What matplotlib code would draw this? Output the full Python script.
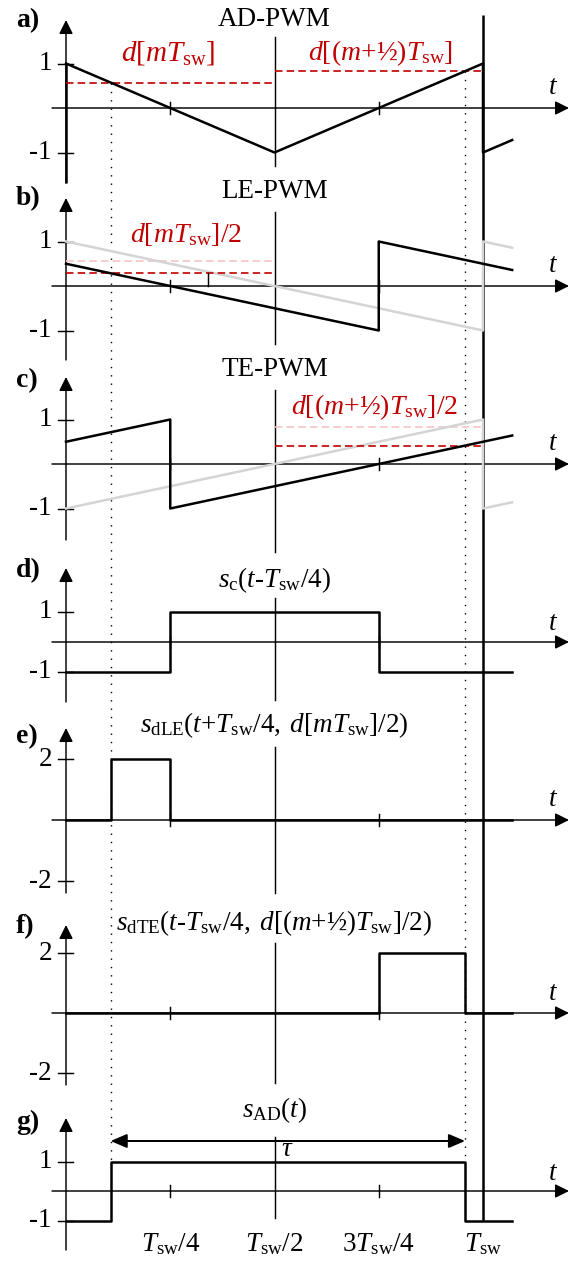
import matplotlib
matplotlib.use("Agg")
import matplotlib.pyplot as plt

plt.rcParams['font.family'] = ['Liberation Serif', 'DejaVu Serif']
plt.rcParams['mathtext.fontset'] = 'custom'
plt.rcParams['mathtext.rm'] = 'Liberation Serif'
plt.rcParams['mathtext.it'] = 'Liberation Serif:italic'
plt.rcParams['mathtext.bf'] = 'Liberation Serif:bold'

# ---------------------------------------------------------------- data
# time is in units of the switching period Tsw
D_M = 0.57          # d[m Tsw]
D_MH = 0.83         # d[(m+1/2) Tsw]
T_ON = 0.107        # AD-PWM rising edge
T_OFF = 0.957       # AD-PWM falling edge

# a) AD-PWM triangular carrier
ad_t = [0.0, 0.5, 1.0, 1.0, 1.07]
ad_v = [1.0, -1.0, 1.0, -1.0, -0.72]

# b) LE-PWM sawtooth carriers
le_t = [0.0, 0.75, 0.75, 1.07]
le_v = [0.5, -1.0, 1.0, 0.36]
le_ref_t = [0.0, 1.0, 1.0, 1.07]
le_ref_v = [1.0, -1.0, 1.0, 0.86]
le_mark_t = 0.34

# c) TE-PWM sawtooth carriers
te_t = [0.0, 0.25, 0.25, 1.07]
te_v = [0.5, 1.0, -1.0, 0.64]
te_ref_t = [0.0, 1.0, 1.0, 1.07]
te_ref_v = [-1.0, 1.0, -1.0, -0.86]

# d) shifted square carrier
sc_t = [0.0, 0.25, 0.25, 0.75, 0.75, 1.07]
sc_v = [-1, -1, 1, 1, -1, -1]

# e) leading-edge pulse
le_pulse_t = [0.0, T_ON, T_ON, 0.25, 0.25, 1.07]
le_pulse_v = [0, 0, 2, 2, 0, 0]

# f) trailing-edge pulse
te_pulse_t = [0.0, 0.75, 0.75, T_OFF, T_OFF, 1.07]
te_pulse_v = [0, 0, 2, 2, 0, 0]

# g) AD-PWM switching function
sad_t = [0.0, T_ON, T_ON, T_OFF, T_OFF, 1.07]
sad_v = [-1, -1, 1, 1, -1, -1]

x_ticks = [0.25, 0.5, 0.75, 1.0]
x_tick_labels = [r"$T_{\mathrm{sw}}/4$", r"$T_{\mathrm{sw}}/2$",
                 r"$3T_{\mathrm{sw}}/4$", r"$T_{\mathrm{sw}}$"]

# ---------------------------------------------------------------- style
RED = "#c00000"
PINK = "#f7c3c3"
GREY = "#d4d4d4"
LW_WAVE = 1.8
LW_AX = 1.05
FS = 19.5
FS_RED = 20
FS_LAB = 20
DASH = (0, (4.5, 2.5))

W, H = 570, 1261
X0, XS = 66, 417      # pixel column of t = 0, pixels per Tsw

fig = plt.figure(figsize=(W / 100, H / 100), dpi=100)


def px_t(px):
    return (px - X0) / XS


# full-height layer for the lines that run through every panel
over = fig.add_axes([0, 0, 1, 1])
over.set_xlim(px_t(0), px_t(W))
over.set_ylim(H, 0)
over.axis('off')
over.set_zorder(-1)


class Panel:
    def __init__(self, top, bottom, zero, scale):
        self.zero, self.scale = zero, scale
        self.ax = fig.add_axes([0, 1 - bottom / H, 1, (bottom - top) / H])
        self.ax.set_xlim(px_t(0), px_t(W))
        self.ax.set_ylim(self.v(bottom), self.v(top))
        self.ax.axis('off')
        self.top, self.bottom = top, bottom

    def v(self, py):
        return (self.zero - py) / self.scale

    def py(self, v):
        return self.zero - v * self.scale


ARROW = dict(arrowstyle='-|>,head_length=0.6,head_width=0.3', mutation_scale=14,
             lw=LW_AX, color='k', shrinkA=0, shrinkB=0)


def axes_frame(p, label, y_top, y_bot, half_top, half_bot, levels, title, title_y,
               label_y, t_y=20):
    ax = p.ax
    # time axis with arrow
    ax.annotate('', xy=(px_t(569), 0), xytext=(px_t(52), 0), arrowprops=ARROW,
                annotation_clip=False, zorder=2)
    ax.text(px_t(553), p.v(p.zero - t_y), r"$t$", fontsize=FS,
            ha='center', va='center')
    # vertical axis with arrow
    ax.annotate('', xy=(0, p.v(y_top)), xytext=(0, p.v(y_bot)), arrowprops=ARROW,
                annotation_clip=False, zorder=2)
    # mid-period marker line
    ax.plot([0.5, 0.5], [p.v(half_bot), p.v(half_top)], color='k', lw=LW_AX,
            clip_on=False, zorder=2)
    # time ticks
    for tt in (0.25, 0.75):
        ax.plot([tt, tt], [p.v(p.zero + 6), p.v(p.zero - 6)], color='k', lw=LW_AX,
                clip_on=False, zorder=2)
    # level ticks
    for lv in levels:
        ax.plot([px_t(58), px_t(73)], [lv, lv], color='k', lw=LW_AX, zorder=2)
        ax.text(px_t(52), lv, f"{lv:g}", fontsize=FS, ha='right', va='center')
    ax.text(px_t(16), p.v(label_y), label, fontsize=FS_LAB, fontweight='bold',
            ha='left', va='center')
    if title:
        ax.text(0.5, p.v(title_y), title, fontsize=FS, ha='center', va='center')


pa = Panel(0, 185, 108, 44.5)
pb = Panel(185, 362, 286, 44.5)
pc = Panel(362, 548, 464, 44.5)
pd = Panel(548, 712, 642, 30.0)
pe = Panel(712, 900, 820, 30.5)
pf = Panel(900, 1085, 1013, 30.0)
pg = Panel(1085, 1261, 1191, 29.5)

axes_frame(pa, "a)", 20, 183, 37, 166, [1, -1], "AD-PWM", 19, 21)
axes_frame(pb, "b)", 198, 360, 212, 344, [1, -1], "LE-PWM", 192, 199)
axes_frame(pc, "c)", 377, 540, 390, 552, [1, -1], "TE-PWM", 369, 381)
axes_frame(pd, "d)", 568, 702, 598, 700, [1, -1],
           r"$s_{\mathrm{c}}(t$-$T_{\mathrm{sw}}/4)$", 580, 571, t_y=19)
axes_frame(pe, "e)", 728, 893, 747, 893, [2, -2],
           r"$s_{\mathrm{dLE}}(t{+}T_{\mathrm{sw}}/4,\;d[mT_{\mathrm{sw}}]/2)$", 725, 737)
axes_frame(pf, "f)", 925, 1085, 943, 1083, [2, -2],
           r"$s_{\mathrm{dTE}}(t$-$T_{\mathrm{sw}}/4,\;d[(m{+}$½$)T_{\mathrm{sw}}]/2)$",
           923, 927)
axes_frame(pg, "g)", 1118, 1250, 1137, 1218, [1, -1], r"$s_{\mathrm{AD}}(t)$",
           1110, 1122, t_y=18)

# period boundary and the two switching instants, through all panels
over.plot([1, 1], [15, pg.py(-1)], color='k', lw=LW_WAVE, solid_capstyle='butt')
over.plot([T_ON, T_ON], [pa.py(D_M), pg.py(1)], color='k', lw=1.0, ls=(0, (1, 5)))
over.plot([T_OFF, T_OFF], [pa.py(D_MH), pg.py(1)], color='k', lw=1.0,
          ls=(0, (1, 5)))
# start of the carrier period in a)
over.plot([0, 0], [pa.py(1), 183], color='k', lw=LW_WAVE, solid_capstyle='butt')

# a) AD-PWM
pa.ax.plot([0, 0.5], [D_M, D_M], color=RED, lw=1.2, ls=DASH, zorder=5)
pa.ax.plot([0.5, 1], [D_MH, D_MH], color=RED, lw=1.2, ls=DASH, zorder=5)
pa.ax.plot(ad_t, ad_v, color='k', lw=LW_WAVE, zorder=6, clip_on=False)
pa.ax.text(px_t(168), pa.v(53), r"$d[mT_{\mathrm{sw}}]$", color=RED, fontsize=FS_RED + 1,
           ha='center', va='center')
pa.ax.text(px_t(380), pa.v(53), r"$d[(m{+}$½$)T_{\mathrm{sw}}]$", color=RED,
           fontsize=FS_RED, ha='center', va='center')

# b) LE-PWM
pb.ax.plot([0, 0.5], [D_M, D_M], color=PINK, lw=1.2, ls=DASH, zorder=3)
pb.ax.plot(le_ref_t, le_ref_v, color=GREY, lw=LW_WAVE, zorder=4, clip_on=False)
pb.ax.plot([0, 0.5], [D_M / 2, D_M / 2], color=RED, lw=1.2, ls=DASH, zorder=5)
pb.ax.plot([le_mark_t, le_mark_t], [0, D_M / 2], color='k', lw=LW_AX, zorder=5)
pb.ax.plot(le_t, le_v, color='k', lw=LW_WAVE, zorder=6, clip_on=False)
pb.ax.text(px_t(186), pb.v(235), r"$d[mT_{\mathrm{sw}}]/2$", color=RED,
           fontsize=FS_RED, ha='center', va='center')

# c) TE-PWM
pc.ax.plot([0.5, 1], [D_MH, D_MH], color=PINK, lw=1.2, ls=DASH, zorder=3)
pc.ax.plot(te_ref_t, te_ref_v, color=GREY, lw=LW_WAVE, zorder=4, clip_on=False)
pc.ax.plot([0.5, 1], [D_MH / 2, D_MH / 2], color=RED, lw=1.2, ls=DASH, zorder=5)
pc.ax.plot(te_t, te_v, color='k', lw=LW_WAVE, zorder=6, clip_on=False)
pc.ax.text(px_t(375), pc.v(407), r"$d[(m{+}$½$)T_{\mathrm{sw}}]/2$", color=RED,
           fontsize=FS_RED, ha='center', va='center')

# d) - g) switching functions
pd.ax.plot(sc_t, sc_v, color='k', lw=LW_WAVE, zorder=6)
pe.ax.plot(le_pulse_t, le_pulse_v, color='k', lw=LW_WAVE, zorder=6)
pf.ax.plot(te_pulse_t, te_pulse_v, color='k', lw=LW_WAVE, zorder=6)
pg.ax.plot(sad_t, sad_v, color='k', lw=LW_WAVE, zorder=6)

# pulse width arrow
tau_y = pg.v(1141)
pg.ax.annotate('', xy=(T_OFF, tau_y), xytext=(T_ON, tau_y),
               arrowprops=dict(arrowstyle='<|-|>,head_length=0.7,head_width=0.3',
                               mutation_scale=14, lw=LW_WAVE * 0.8, color='k',
                               shrinkA=0, shrinkB=0), zorder=6)
pg.ax.text(px_t(287), pg.v(1150), r"$\tau$", fontsize=FS, ha='center',
           va='center')

# time tick labels
for tt, lab in zip(x_ticks, x_tick_labels):
    pg.ax.text(tt, pg.v(1244), lab, fontsize=FS, ha='center', va='center')

fig.savefig("out.png", dpi=100)
